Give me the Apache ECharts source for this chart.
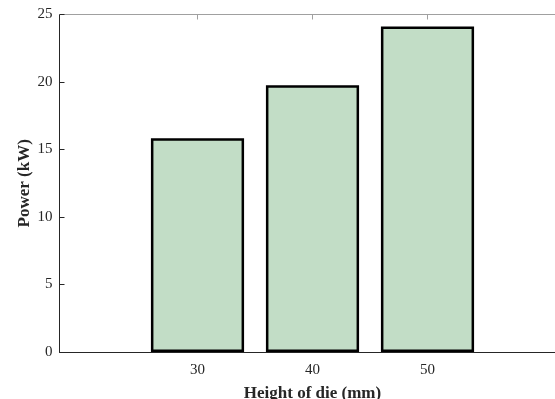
<!DOCTYPE html>
<html>
<head>
<meta charset="utf-8">
<script src="https://cdn.jsdelivr.net/npm/echarts@6/dist/echarts.min.js"></script>
<style>html,body{margin:0;padding:0;background:#fff}#c{width:555px;height:399px}</style>
</head>
<body>
<div id="c"></div>
<script>
const heights = [30, 40, 50];
const power = [15.83, 19.76, 24.12];
const yTicks = [0, 5, 10, 15, 20, 25];

const chart = echarts.init(document.getElementById('c'), null, {renderer: 'canvas'});
const font = 'Liberation Serif, Times New Roman, serif';
const dark = '#262626';
chart.setOption({
  animation: false,
  backgroundColor: '#fff',
  grid: {left: 59.5, top: 14.5, width: 506, height: 337.5, containLabel: false, outerBoundsMode: 'none'},
  xAxis: [{
    type: 'value', min: 18, max: 62, position: 'bottom',
    name: 'Height of die (mm)', nameLocation: 'middle', nameGap: 33, nameMoveOverlap: false,
    nameTextStyle: {fontFamily: font, fontWeight: 'bold', fontSize: 17, color: dark},
    axisLine: {show: true, lineStyle: {color: dark, width: 1}},
    axisTick: {show: true, inside: true, length: 5, customValues: heights, lineStyle: {color: dark}},
    axisLabel: {customValues: heights, fontFamily: font, fontSize: 15, color: dark, margin: 11},
    splitLine: {show: false}
  }, {
    type: 'value', min: 18, max: 62, position: 'top',
    axisLine: {show: true, onZero: false, lineStyle: {color: '#a0a0a0', width: 1}},
    axisTick: {show: true, inside: true, length: 5, customValues: heights, lineStyle: {color: '#a0a0a0'}},
    axisLabel: {show: false},
    splitLine: {show: false}
  }],
  yAxis: {
    type: 'value', min: 0, max: 25, interval: 5,
    name: 'Power (kW)', nameLocation: 'middle', nameGap: 26, nameMoveOverlap: false,
    nameTextStyle: {fontFamily: font, fontWeight: 'bold', fontSize: 17, color: dark},
    axisLine: {show: true, lineStyle: {color: dark, width: 1}},
    axisTick: {show: true, inside: true, length: 5, lineStyle: {color: dark}},
    axisLabel: {fontFamily: font, fontSize: 15, color: dark, margin: 7,
      formatter: v => yTicks.includes(v) ? String(v) : ''},
    splitLine: {show: false}
  },
  series: [{
    type: 'bar', xAxisIndex: 0,
    data: heights.map((h, i) => [h, power[i]]),
    barWidth: '81%',
    itemStyle: {color: '#c2ddc6', borderColor: '#000', borderWidth: 2.5}
  }]
});
</script>
</body>
</html>
